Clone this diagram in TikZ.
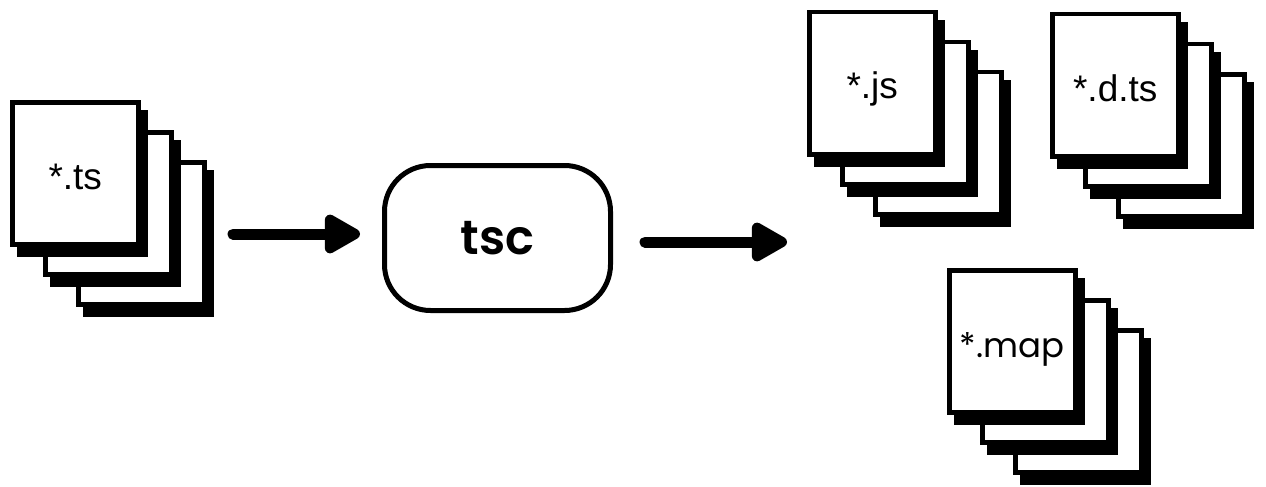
\documentclass[tikz,border=0pt]{standalone}
\usepackage{fontspec}
\setmainfont{Liberation Sans}
\newfontfamily\popfont[BoldFont={Poppins SemiBold}]{Poppins}
\usetikzlibrary{arrows.meta,calc}
\tikzset{
  page/.style={draw=black, fill=white, line width=4.5pt, minimum width=126pt, minimum height=142pt, anchor=north west, inner sep=0pt},
  pageshadow/.style={fill=black},
  fname/.style={font=\fontsize{37}{40}\selectfont, inner sep=0pt, anchor=base},
  mapname/.style={font=\popfont\fontsize{34}{38}\selectfont, inner sep=0pt, anchor=base},
  tool/.style={draw=black, line width=5pt, rounded corners=46pt, minimum width=226pt, minimum height=145pt, fill=white, inner sep=0pt, font=\popfont\bfseries\fontsize{48}{50}\selectfont},
  flow/.style={line width=11pt, line cap=round, -{Triangle[length=41pt,width=43pt,round]}},
}
\newcommand\pagestack[5]{%
  \foreach \d/\k in {2/3,1/2,0/1}{%
    \fill[pageshadow] (#2+\d*33+7, #3+\d*30+10) rectangle ++(130.5,146.5);
    \node[page] (#1\k) at (#2+\d*33, #3+\d*30) {};
  }
  \node[#4] (#1label) at ($(#11.north)+(0,89)$) {#5};
}
\begin{document}
\begin{tikzpicture}[x=1pt,y=-1pt]
  \useasboundingbox[fill=white] (0,0) rectangle (1266,487);
  \pagestack{ts}{10}{100}{fname}{*.ts}
  \pagestack{js}{807}{10}{fname}{*.js}
  \pagestack{dts}{1050}{12}{fname}{*.d.ts}
  \pagestack{map}{947}{268}{mapname}{*.map}
  \node[tool] (tsc) at (497.5,238) {tsc};
  \coordinate (in) at (233,234);
  \draw[flow, shorten >=22pt] (in) -- (in -| tsc.west);
  \coordinate (out) at (787,242);
  \draw[flow, shorten <=32pt] (tsc.east |- out) -- (out);
\end{tikzpicture}
\end{document}
